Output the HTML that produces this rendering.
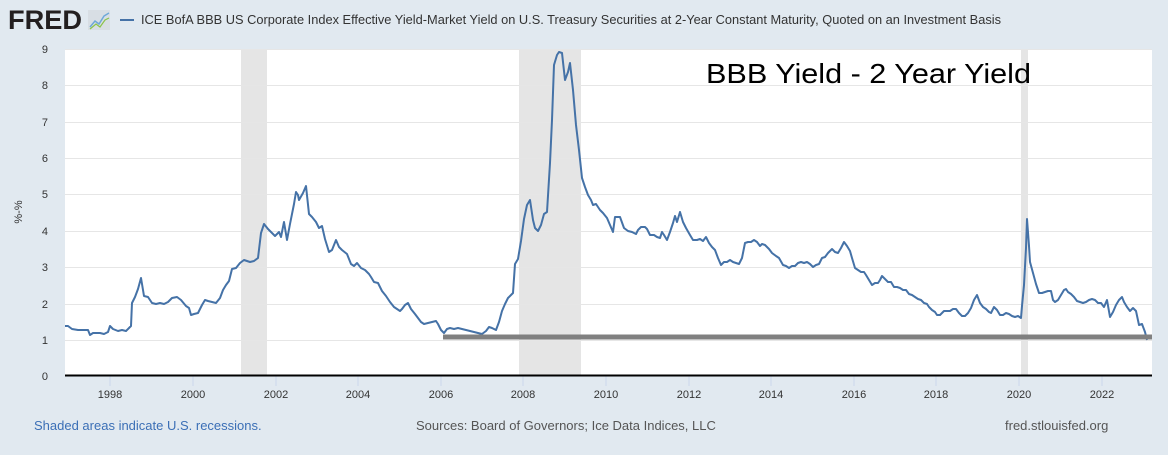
<!DOCTYPE html>
<html><head><meta charset="utf-8"><style>
body{margin:0;width:1168px;height:450px;background:#e1e9f0;overflow:hidden;font-family:"Liberation Sans",Arial,sans-serif}
</style></head><body>
<svg width="1168" height="450" xmlns="http://www.w3.org/2000/svg" font-family="Liberation Sans, Arial, sans-serif">
<rect width="1168" height="450" fill="#e1e9f0"/>
<text x="8" y="29" font-size="27" font-weight="bold" fill="#231f20" textLength="74" lengthAdjust="spacingAndGlyphs">FRED</text>
<rect x="88" y="10" width="22" height="20" fill="#d8dee4"/>
<polyline points="90,27 95,21 99,24 104,16 109,13" fill="none" stroke="#6ea8d8" stroke-width="1.5"/>
<polyline points="90,29 96,24 100,27 105,20 109,18" fill="none" stroke="#8bc34a" stroke-width="1.2"/>
<line x1="120" y1="20" x2="134" y2="20" stroke="#4572a7" stroke-width="2"/>
<text x="141" y="24" font-size="12.6" fill="#333" textLength="860" lengthAdjust="spacingAndGlyphs">ICE BofA BBB US Corporate Index Effective Yield-Market Yield on U.S. Treasury Securities at 2-Year Constant Maturity, Quoted on an Investment Basis</text>
<rect x="65" y="49" width="1087" height="327" fill="#fff"/>
<g fill="#e5e5e5"><rect x="241" y="49" width="26" height="327"/><rect x="519" y="49" width="62" height="327"/><rect x="1021" y="49" width="7" height="327"/></g>
<g stroke="#e6e6e6" stroke-width="1">
<line x1="65" x2="1152" y1="49.5" y2="49.5"/><line x1="65" x2="1152" y1="85.5" y2="85.5"/><line x1="65" x2="1152" y1="122.5" y2="122.5"/><line x1="65" x2="1152" y1="158.5" y2="158.5"/><line x1="65" x2="1152" y1="194.5" y2="194.5"/><line x1="65" x2="1152" y1="231.5" y2="231.5"/><line x1="65" x2="1152" y1="267.5" y2="267.5"/><line x1="65" x2="1152" y1="304.5" y2="304.5"/><line x1="65" x2="1152" y1="340.5" y2="340.5"/>
</g>
<g font-size="11" fill="#333" text-anchor="end">
<text x="48" y="53">9</text><text x="48" y="89">8</text><text x="48" y="126">7</text><text x="48" y="162">6</text><text x="48" y="198">5</text><text x="48" y="235">4</text><text x="48" y="271">3</text><text x="48" y="308">2</text><text x="48" y="344">1</text><text x="48" y="380">0</text>
</g>
<text transform="translate(22,212) rotate(-90)" font-size="11" fill="#333" text-anchor="middle">%-%</text>
<g stroke="#ccd6eb"><line x1="110" x2="110" y1="376" y2="386"/><line x1="193" x2="193" y1="376" y2="386"/><line x1="276" x2="276" y1="376" y2="386"/><line x1="358" x2="358" y1="376" y2="386"/><line x1="441" x2="441" y1="376" y2="386"/><line x1="523" x2="523" y1="376" y2="386"/><line x1="606" x2="606" y1="376" y2="386"/><line x1="689" x2="689" y1="376" y2="386"/><line x1="771" x2="771" y1="376" y2="386"/><line x1="854" x2="854" y1="376" y2="386"/><line x1="936" x2="936" y1="376" y2="386"/><line x1="1019" x2="1019" y1="376" y2="386"/><line x1="1102" x2="1102" y1="376" y2="386"/></g>
<g font-size="11" fill="#333" text-anchor="middle">
<text x="110" y="398">1998</text><text x="193" y="398">2000</text><text x="276" y="398">2002</text><text x="358" y="398">2004</text><text x="441" y="398">2006</text><text x="523" y="398">2008</text><text x="606" y="398">2010</text><text x="689" y="398">2012</text><text x="771" y="398">2014</text><text x="854" y="398">2016</text><text x="936" y="398">2018</text><text x="1019" y="398">2020</text><text x="1102" y="398">2022</text>
</g>
<line x1="65" x2="1152" y1="375.5" y2="375.5" stroke="#000" stroke-width="2"/>
<polyline fill="none" stroke="#4572a7" stroke-width="2" stroke-linejoin="round" points="65,326 68,326 72,329 78,330 88,330 90,335 93,333 97,333 100,333 104,334 108,332 110,326 113,329 118,331 122,330 126,331 129,328 131,326 132,303 135,297 138,289 141,278 144,296 148,297 152,303 156,304 160,303 164,304 168,302 172,298 177,297 181,300 186,306 189,308 191,315 194,314 198,313 202,305 205,300 208,301 212,302 216,303 220,298 223,290 226,285 229,281 232,269 236,268 240,263 244,260 250,262 254,261 258,258 261,233 264,224 268,229 272,233 275,236 279,232 281,237 284,222 287,240 290,224 294,204 296,192 298,195 299,200 303,193 306,186 309,214 312,217 316,222 319,228 322,226 325,239 329,252 332,250 336,240 339,247 342,250 347,254 351,264 354,266 357,263 361,268 365,270 369,274 371,277 374,282 378,283 382,291 386,296 390,302 394,307 397,309 400,311 402,309 405,305 408,303 411,309 415,314 418,318 421,322 424,324 428,323 432,322 436,321 438,324 441,330 444,333 447,329 450,328 454,329 458,328 462,329 466,330 470,331 474,332 478,333 482,334 486,331 489,327 492,328 496,330 499,322 502,311 505,304 508,298 511,295 513,293 515,264 518,259 521,241 524,219 527,205 530,200 533,220 535,228 538,231 541,225 544,214 547,212 550,163 552,120 554,65 557,55 559,52 562,53 565,80 568,72 570,63 573,90 576,125 579,150 582,178 585,187 588,195 591,200 593,205 596,204 600,210 603,213 607,218 610,225 613,232 615,217 620,217 624,228 628,231 632,232 636,234 638,230 641,227 645,227 647,229 650,235 654,235 657,237 660,238 662,232 664,235 667,240 670,232 673,223 675,216 677,222 680,212 683,222 686,228 690,235 693,240 697,240 700,239 703,241 706,237 709,243 712,247 715,250 718,258 721,265 724,262 727,262 730,260 733,262 736,263 739,264 742,258 745,243 748,242 751,242 754,240 757,242 760,246 762,244 765,245 769,249 772,253 776,256 779,258 783,265 786,266 789,268 792,266 795,266 798,263 801,262 804,263 807,262 810,264 813,267 816,265 819,264 822,258 825,257 828,253 832,249 835,252 838,253 841,248 844,242 847,246 850,251 852,258 855,268 858,270 861,272 864,272 866,275 869,280 872,285 875,283 878,283 880,280 882,276 885,279 888,282 891,282 894,287 897,287 900,288 903,290 906,290 909,294 912,295 915,297 918,299 921,300 924,303 927,304 929,307 932,310 935,312 937,315 940,315 942,313 944,311 947,311 950,311 953,309 956,309 959,313 962,316 965,316 968,313 971,308 974,300 977,295 980,303 983,307 986,309 989,312 991,313 994,307 997,310 1000,315 1003,315 1006,313 1009,314 1012,316 1015,317 1018,316 1021,318 1022,306 1024,285 1026,248 1027,219 1029,246 1030,262 1033,273 1036,284 1039,293 1042,293 1045,292 1048,291 1051,291 1053,300 1055,302 1058,300 1061,295 1064,290 1066,289 1068,292 1071,294 1074,297 1077,301 1080,302 1083,303 1086,302 1089,300 1092,299 1095,300 1098,303 1101,303 1104,307 1107,300 1110,317 1113,312 1116,305 1119,300 1122,297 1124,302 1127,307 1130,311 1133,308 1136,311 1139,325 1142,324 1145,332 1147,340"/>
<line x1="443" x2="1152" y1="337" y2="337" stroke="#808080" stroke-width="5"/>
<text x="706" y="83" font-size="28" fill="#000" textLength="325" lengthAdjust="spacingAndGlyphs">BBB Yield - 2 Year Yield</text>
<text x="34" y="430" font-size="13" fill="#3b6fb6">Shaded areas indicate U.S. recessions.</text>
<text x="416" y="430" font-size="13" fill="#555">Sources: Board of Governors; Ice Data Indices, LLC</text>
<text x="1005" y="430" font-size="13" fill="#555">fred.stlouisfed.org</text>
</svg>
</body></html>
